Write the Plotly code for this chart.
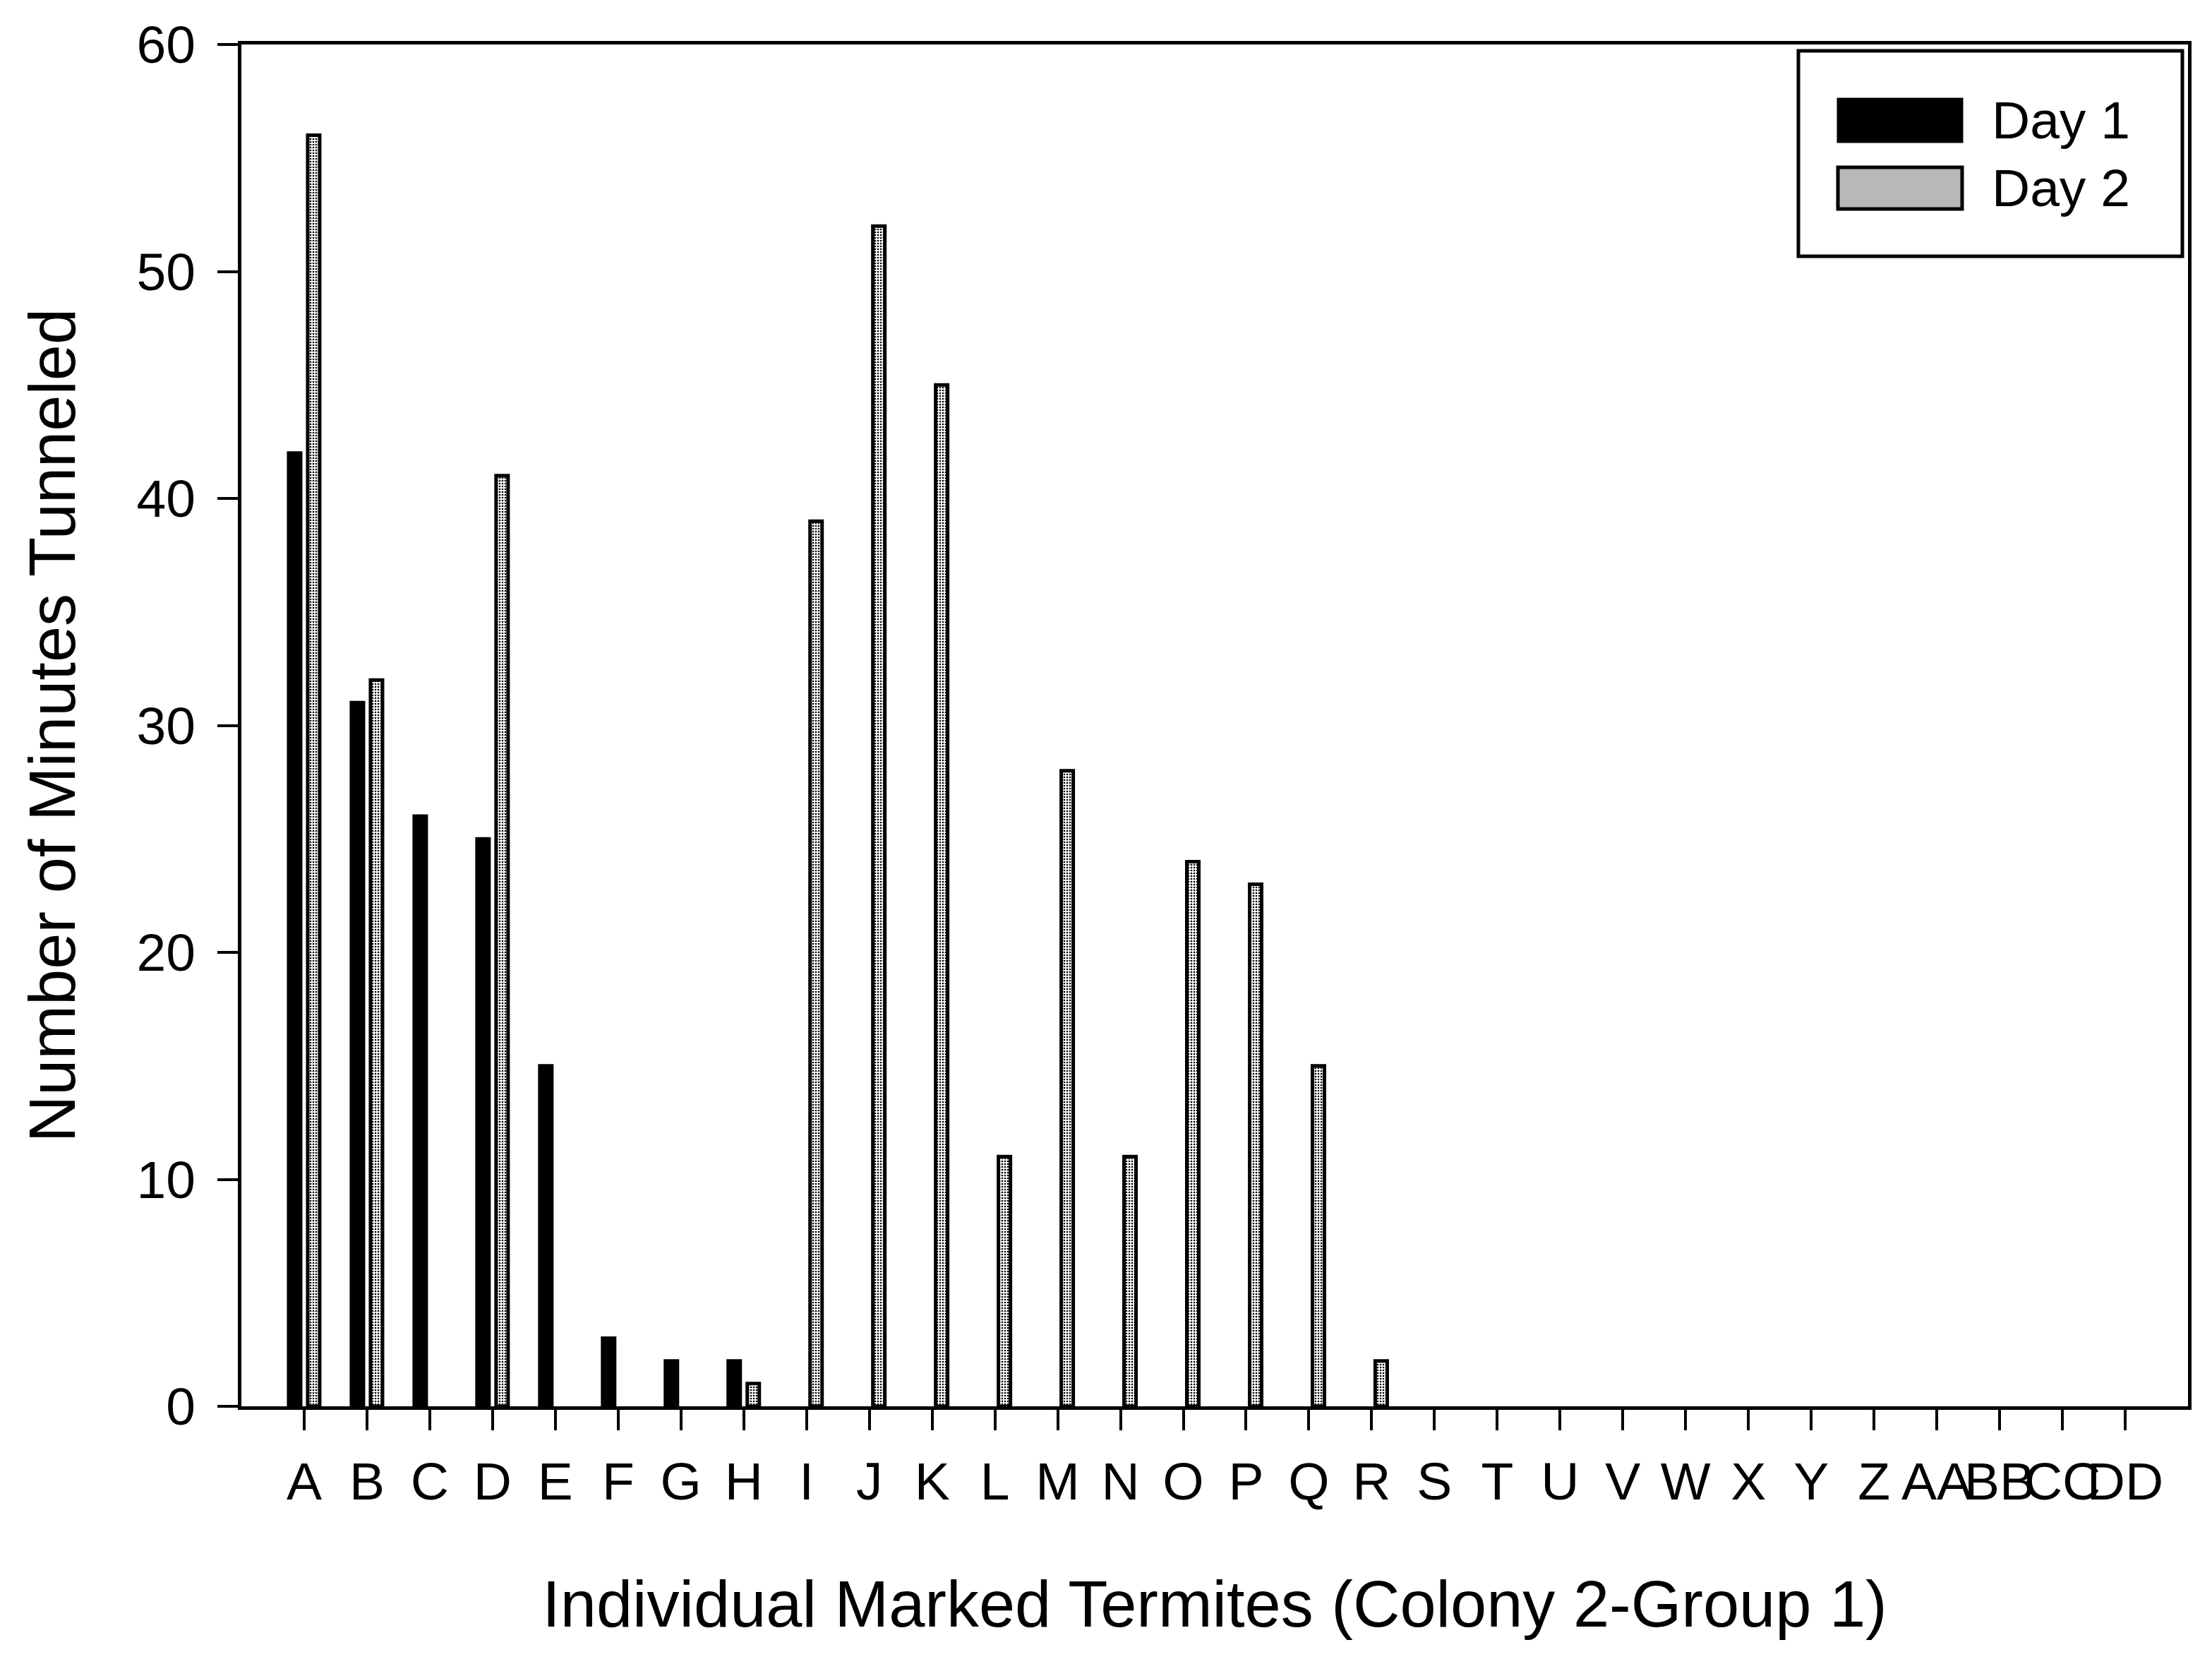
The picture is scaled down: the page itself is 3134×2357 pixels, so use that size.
import plotly.graph_objects as go

categories = list("ABCDEFGHIJKLMNOPQRSTUVWXYZ") + ["AA", "BB", "CC", "DD"]
day1 = [42, 31, 26, 25, 15, 3, 2, 2] + [0] * 22
day2 = [56, 32, 0, 41, 0, 0, 0, 1, 39, 52, 45, 11, 28, 11, 24, 23, 15, 2] + [0] * 12
y_ticks = [0, 10, 20, 30, 40, 50, 60]

OFF = 8  # default page margin of the html body
W, H = 3134 - OFF, 2357 - OFF
L, R, T, B = 342, 3100, 63, 1992  # target plot-area edges on the page
FONT = "Liberation Sans, Arial, sans-serif"


def px(x):
    return (x - L) / (R - L)


def py(y):
    return (B - y) / (B - T)


def nz(vals):
    # zero-length bars are not drawn in the reference
    return [v if v else None for v in vals]


fig = go.Figure()
fig.add_trace(go.Bar(
    x=categories, y=nz(day1), name="Day 1",
    marker=dict(color="black", line=dict(color="black", width=5)),
    showlegend=False,
))
fig.add_trace(go.Bar(
    x=categories, y=nz(day2), name="Day 2",
    marker=dict(color="#ffffff", line=dict(color="black", width=5),
                pattern=dict(shape=".", fgcolor="#000000", bgcolor="#ffffff",
                             size=4, solidity=0.35)),
    showlegend=False,
))

fig.update_layout(
    template="none",
    width=W, height=H,
    margin=dict(l=L - OFF, r=W - (R - OFF), t=T - OFF, b=H - (B - OFF),
                pad=0, autoexpand=False),
    paper_bgcolor="white", plot_bgcolor="white",
    barmode="group", bargap=0.393, bargroupgap=0.37,
    font=dict(family=FONT, size=75, color="black"),
    showlegend=False,
)

fig.update_xaxes(
    type="category", categoryorder="array", categoryarray=categories,
    tickmode="array", tickvals=categories, ticktext=categories,
    tickangle=0,
    range=[-1, len(categories)], automargin=False,
    showline=True, linecolor="black", linewidth=5, mirror=True,
    ticks="outside", ticklen=29, tickwidth=4, tickcolor="black",
    showgrid=False, zeroline=False,
    tickfont=dict(family=FONT, size=75, color="black"),
    ticklabelstandoff=8,
    title=dict(text="Individual Marked Termites (Colony 2-Group 1)",
               font=dict(family=FONT, size=92, color="black"), standoff=102),
)
fig.update_yaxes(
    range=[0, 60], tickmode="array", tickvals=y_ticks,
    ticktext=[str(v) for v in y_ticks], automargin=False,
    showline=True, linecolor="black", linewidth=5, mirror=True,
    ticks="outside", ticklen=29, tickwidth=4, tickcolor="black",
    showgrid=False, zeroline=False,
    tickfont=dict(family=FONT, size=75, color="black"),
    ticklabelstandoff=16,
    title=dict(text="Number of Minutes Tunneled",
               font=dict(family=FONT, size=92, color="black"), standoff=58),
)

# Legend box drawn to match the reference style
fig.add_shape(type="rect", xref="paper", yref="paper",
              x0=px(2548), x1=px(3092), y0=py(363), y1=py(72),
              line=dict(color="black", width=5), fillcolor="white", layer="above")
fig.add_shape(type="rect", xref="paper", yref="paper",
              x0=px(2604), x1=px(2780), y0=py(201), y1=py(140),
              line=dict(color="black", width=3), fillcolor="black", layer="above")
fig.add_shape(type="rect", xref="paper", yref="paper",
              x0=px(2604), x1=px(2780), y0=py(296), y1=py(237),
              line=dict(color="black", width=5), fillcolor="#b8b8b8", layer="above")
for name, yc in (("Day 1", 170), ("Day 2", 266)):
    fig.add_annotation(text=name, xref="paper", yref="paper",
                       x=px(2820), y=py(yc), xanchor="left", yanchor="middle",
                       showarrow=False, font=dict(family=FONT, size=75, color="black"))

fig.write_html("out.html")
